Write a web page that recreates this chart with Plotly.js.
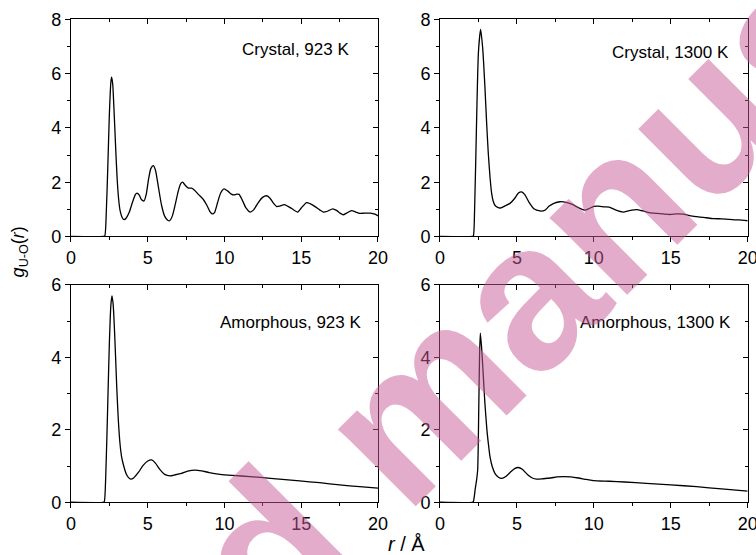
<!DOCTYPE html>
<html>
<head>
<meta charset="utf-8">
<script src="https://cdn.plot.ly/plotly-3.0.1.min.js"></script>
<style>
  html, body { margin: 0; padding: 0; background: #fff; }
  #chart { width: 756px; height: 555px; }
</style>
</head>
<body>
<div id="chart"></div>
<script>
// U–O pair distribution functions g(r), r in Å
const panelLabels = ["Crystal, 923 K", "Crystal, 1300 K", "Amorphous, 923 K", "Amorphous, 1300 K"];

const rCryst923 = [0, 2.1, 2.2, 2.3, 2.4, 2.5, 2.6, 2.65, 2.72, 2.8, 2.9, 3.0, 3.1, 3.2, 3.35, 3.46, 3.6, 3.8, 4.0, 4.2, 4.3, 4.45, 4.6, 4.76, 4.9, 5.05, 5.2, 5.36, 5.5, 5.7, 5.9, 6.1, 6.3, 6.42, 6.6, 6.8, 7.0, 7.15, 7.27, 7.45, 7.65, 7.86, 8.05, 8.3, 8.6, 8.85, 9.05, 9.21, 9.35, 9.55, 9.75, 9.97, 10.2, 10.45, 10.6, 10.8, 10.95, 11.15, 11.4, 11.66, 11.9, 12.2, 12.5, 12.75, 12.95, 13.2, 13.4, 13.6, 13.88, 14.1, 14.4, 14.77, 15.0, 15.35, 15.6, 15.9, 16.2, 16.44, 16.7, 17.05, 17.3, 17.55, 17.74, 17.95, 18.28, 18.55, 18.8, 19.1, 19.5, 19.8, 20.0];
const gCryst923 = [0, 0, 0.02, 0.9, 2.6, 4.5, 5.7, 5.87, 5.6, 4.7, 3.4, 2.2, 1.4, 0.95, 0.68, 0.62, 0.68, 0.9, 1.25, 1.55, 1.6, 1.52, 1.35, 1.31, 1.55, 2.1, 2.5, 2.61, 2.45, 1.8, 1.15, 0.75, 0.6, 0.58, 0.75, 1.2, 1.7, 1.95, 2.0, 1.88, 1.78, 1.78, 1.7, 1.55, 1.38, 1.15, 0.92, 0.83, 0.88, 1.25, 1.6, 1.75, 1.68, 1.56, 1.53, 1.56, 1.55, 1.35, 1.05, 0.9, 0.98, 1.25, 1.45, 1.5, 1.42, 1.22, 1.1, 1.12, 1.17, 1.12, 1.02, 0.9, 1.05, 1.25, 1.2, 1.1, 0.98, 0.9, 0.93, 1.02, 0.96, 0.85, 0.8, 0.86, 0.95, 0.9, 0.85, 0.86, 0.86, 0.82, 0.76];

const rCryst1300 = [0, 2.1, 2.17, 2.25, 2.38, 2.5, 2.64, 2.78, 2.92, 3.03, 3.14, 3.25, 3.36, 3.46, 3.57, 3.75, 3.94, 4.2, 4.55, 4.85, 5.1, 5.3, 5.5, 5.8, 6.1, 6.5, 6.8, 7.1, 7.4, 7.8, 8.2, 8.6, 9.0, 9.42, 9.7, 10.0, 10.3, 10.7, 11.0, 11.4, 11.91, 12.3, 12.78, 13.2, 13.6, 14.08, 14.5, 14.95, 15.4, 15.81, 16.3, 16.8, 17.3, 17.76, 18.3, 18.8, 19.4, 20.0];
const gCryst1300 = [0, 0, 0.02, 1.0, 4.29, 6.8, 7.63, 6.9, 5.51, 4.2, 3.06, 2.2, 1.58, 1.3, 1.15, 1.07, 1.05, 1.12, 1.22, 1.4, 1.6, 1.64, 1.55, 1.25, 1.02, 0.94, 0.96, 1.12, 1.22, 1.28, 1.26, 1.18, 1.06, 0.97, 1.03, 1.11, 1.12, 1.09, 1.08, 0.98, 0.9, 0.95, 0.99, 0.94, 0.88, 0.85, 0.83, 0.81, 0.83, 0.82, 0.76, 0.72, 0.69, 0.66, 0.65, 0.63, 0.61, 0.58];

const rAmor923 = [0, 2.1, 2.17, 2.27, 2.4, 2.5, 2.6, 2.67, 2.75, 2.85, 2.98, 3.08, 3.19, 3.3, 3.45, 3.6, 3.75, 3.89, 4.1, 4.4, 4.7, 5.0, 5.26, 5.5, 5.8, 6.1, 6.45, 6.8, 7.2, 7.6, 8.08, 8.5, 9.0, 9.7, 10.5, 11.66, 13.0, 14.9, 16.2, 17.5, 18.8, 20.0];
const gAmor923 = [0, 0, 0.02, 0.8, 2.8, 4.4, 5.45, 5.7, 5.45, 4.6, 3.19, 2.3, 1.63, 1.25, 0.98, 0.78, 0.68, 0.64, 0.68, 0.83, 1.02, 1.14, 1.17, 1.08, 0.9, 0.77, 0.73, 0.76, 0.8, 0.86, 0.89, 0.87, 0.82, 0.77, 0.74, 0.71, 0.66, 0.59, 0.54, 0.48, 0.43, 0.39];

const rAmor1300 = [0, 2.1, 2.17, 2.3, 2.38, 2.45, 2.52, 2.57, 2.62, 2.7, 2.8, 2.92, 3.05, 3.15, 3.25, 3.4, 3.57, 3.8, 4.01, 4.3, 4.6, 4.85, 5.09, 5.35, 5.7, 6.0, 6.28, 6.7, 7.2, 7.6, 8.02, 8.5, 9.0, 9.5, 9.97, 11.0, 12.0, 13.4, 15.0, 16.68, 18.3, 20.0];
const gAmor1300 = [0, 0, 0.02, 0.4, 0.62, 0.9, 2.6, 4.0, 4.67, 4.3, 3.6, 2.73, 2.0, 1.6, 1.26, 0.98, 0.8, 0.69, 0.66, 0.72, 0.84, 0.93, 0.96, 0.91, 0.76, 0.67, 0.64, 0.65, 0.67, 0.7, 0.71, 0.7, 0.67, 0.63, 0.6, 0.58, 0.56, 0.52, 0.48, 0.43, 0.37, 0.31];

const rTicks = [0, 5, 10, 15, 20];
const gRangeTop = [0, 8];
const gRangeBottom = [0, 6];

const FONT = "Arial, 'Liberation Sans', sans-serif";

const series = [
  {r: rCryst923, g: gCryst923, ax: ""},
  {r: rCryst1300, g: gCryst1300, ax: "2"},
  {r: rAmor923, g: gAmor923, ax: "3"},
  {r: rAmor1300, g: gAmor1300, ax: "4"}
];

const traces = series.map(s => ({
  type: "scatter", mode: "lines",
  x: s.r, y: s.g,
  xaxis: "x" + s.ax, yaxis: "y" + s.ax,
  line: {color: "#000", width: 1.3, shape: "spline", smoothing: 0.6},
  hoverinfo: "skip", showlegend: false
}));

// empty traces that carry the mirrored (inward) tick axes
for (let i = 0; i < 4; i++) {
  traces.push({
    type: "scatter", mode: "lines", x: [], y: [],
    xaxis: "x" + (i + 5), yaxis: "y" + (i + 5),
    hoverinfo: "skip", showlegend: false
  });
}

const xDomains = [[0.0939, 0.5], [0.582, 0.989], [0.0939, 0.5], [0.582, 0.989]];
const yDomains = [[0.5739, 0.9652], [0.5739, 0.9652], [0.095, 0.4865], [0.095, 0.4865]];
const yRanges = [gRangeTop, gRangeTop, gRangeBottom, gRangeBottom];

const layout = {
  width: 756, height: 555,
  margin: {l: 0, r: 0, t: 0, b: 0},
  paper_bgcolor: "#fff", plot_bgcolor: "#fff",
  font: {family: FONT, color: "#000", size: 18},
  showlegend: false,
  annotations: []
};

for (let i = 0; i < 4; i++) {
  const n = i + 1, ov = i + 5;
  const xName = n === 1 ? "x" : "x" + n;
  const yName = n === 1 ? "y" : "y" + n;
  layout["xaxis" + (n === 1 ? "" : n)] = {
    domain: xDomains[i], anchor: yName, range: [0, 20],
    tickmode: "array", tickvals: rTicks, ticktext: rTicks.map(String),
    ticks: "outside", ticklen: 5, tickwidth: 1, tickcolor: "#000",
    minor: {tickmode: "linear", tick0: 0, dtick: 2.5, ticks: "outside", ticklen: 3, tickwidth: 1, tickcolor: "#000", showgrid: false},
    showline: true, linecolor: "#000", linewidth: 1, mirror: true,
    showgrid: false, zeroline: false, ticklabeloverflow: "allow",
    tickfont: {size: 18, family: FONT, color: "#000"}
  };
  layout["yaxis" + (n === 1 ? "" : n)] = {
    domain: yDomains[i], anchor: xName, range: yRanges[i],
    tickmode: "linear", tick0: 0, dtick: 2,
    ticks: "outside", ticklen: 5, tickwidth: 1, tickcolor: "#000",
    minor: {tickmode: "linear", tick0: 0, dtick: 1, ticks: "outside", ticklen: 3, tickwidth: 1, tickcolor: "#000", showgrid: false},
    showline: true, linecolor: "#000", linewidth: 1, mirror: true,
    showgrid: false, zeroline: false, ticklabeloverflow: "allow",
    tickfont: {size: 18, family: FONT, color: "#000"}
  };
  // inward ticks along the top and right frame edges
  layout["xaxis" + ov] = {
    overlaying: xName, side: "top", anchor: yName, range: [0, 20],
    tickmode: "array", tickvals: rTicks,
    ticks: "inside", ticklen: 5, tickwidth: 1, tickcolor: "#000",
    minor: {tickmode: "linear", tick0: 0, dtick: 2.5, ticks: "inside", ticklen: 3, tickwidth: 1, tickcolor: "#000", showgrid: false},
    showticklabels: false, showline: false, showgrid: false, zeroline: false
  };
  layout["yaxis" + ov] = {
    overlaying: yName, side: "right", anchor: xName, range: yRanges[i],
    tickmode: "linear", tick0: 0, dtick: 2,
    ticks: "inside", ticklen: 5, tickwidth: 1, tickcolor: "#000",
    minor: {tickmode: "linear", tick0: 0, dtick: 1, ticks: "inside", ticklen: 3, tickwidth: 1, tickcolor: "#000", showgrid: false},
    showticklabels: false, showline: false, showgrid: false, zeroline: false
  };
}

// panel labels
const labelPos = [[0.4643, 0.9117], [0.9665, 0.9063], [0.4806, 0.4186], [0.970, 0.4193]];
panelLabels.forEach((t, i) => {
  layout.annotations.push({
    text: t, xref: "paper", yref: "paper",
    x: labelPos[i][0], y: labelPos[i][1],
    xanchor: "right", yanchor: "middle", showarrow: false,
    font: {family: FONT, size: 17, color: "#000"}
  });
});

// shared axis titles
layout.annotations.push({
  text: "<i>g</i><sub>U-O</sub>(<i>r</i>)", xref: "paper", yref: "paper",
  x: 0.027, y: 0.546, textangle: -90, showarrow: false,
  xanchor: "center", yanchor: "middle",
  font: {family: FONT, size: 18, color: "#000"}
});
layout.annotations.push({
  text: "<i>r</i> / Å", xref: "paper", yref: "paper",
  x: 0.538, y: 0.019, showarrow: false,
  xanchor: "center", yanchor: "middle",
  font: {family: FONT, size: 20, color: "#000"}
});

// diagonal watermark
layout.annotations.push({
  text: "Accepted manuscript", xref: "paper", yref: "paper",
  x: 0.528, y: 0.241, textangle: -45, showarrow: false,
  xanchor: "center", yanchor: "middle",
  font: {family: FONT, size: 207, weight: 700, color: "rgba(200,90,150,0.5)"}
});

Plotly.newPlot("chart", traces, layout, {staticPlot: true, displayModeBar: false});
</script>
</body>
</html>
